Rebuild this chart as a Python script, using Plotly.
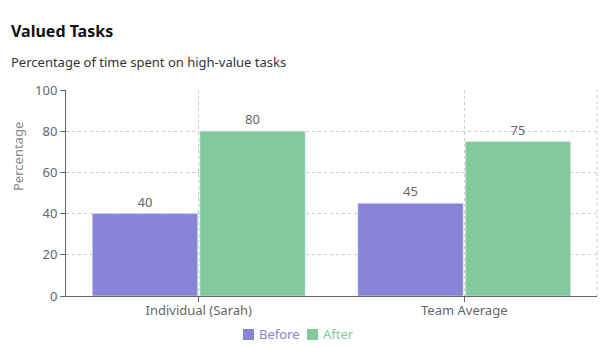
import plotly.graph_objects as go

categories = ["Individual (Sarah)", "Team Average"]
before_vals = [40, 45]
after_vals = [80, 75]
y_ticks = [0, 20, 40, 60, 80, 100]
series_names = ["Before", "After"]
series_colors = ["#8884d8", "#82ca9d"]

FONT = "Noto Sans"
W, H = 607, 348
ML, MR, MT, MB = 66, 10, 90, 52
pw = W - ML - MR
ph = H - MT - MB

def px2paper(px, py):
    return (px - ML) / pw, (H - MB - py) / ph

fig = go.Figure()
for name, vals, col in zip(series_names, [before_vals, after_vals], series_colors):
    fig.add_trace(go.Bar(
        x=categories, y=vals, name=name,
        marker_color=col, text=vals, textposition="outside",
        textfont=dict(color="#666", size=13, family=FONT), cliponaxis=False,
    ))

annotations = []
def ann(text, x, y, size, color, angle=0, xanchor="left"):
    ax, ay = px2paper(x, y)
    annotations.append(dict(text=text, x=ax, y=ay, xref="paper", yref="paper",
                            showarrow=False, textangle=angle,
                            font=dict(size=size, color=color, family=FONT),
                            xanchor=xanchor, yanchor="middle"))

ann("<b>Valued Tasks</b>", 9, 31, 16, "#111")
ann("Percentage of time spent on high-value tasks", 9, 62, 13, "#333")
ann("Percentage", 18, 157, 13, "#888", angle=-90, xanchor="center")

shapes = [dict(type="line", xref="paper", yref="paper", x0=1, x1=1, y0=0, y1=1,
               line=dict(color="#ccc", width=1, dash="3px,3px"))]

# custom legend
leg = [(243, 259), (307, 323)]
for (mx, tx), name, col in zip(leg, series_names, series_colors):
    x0, y0 = px2paper(mx, 340)
    x1, y1 = px2paper(mx + 11, 329)
    shapes.append(dict(type="rect", xref="paper", yref="paper", x0=x0, x1=x1,
                       y0=y0, y1=y1, fillcolor=col, line=dict(width=0)))
    ann(name, tx - 2, 334, 13, col)

fig.update_layout(
    width=W, height=H,
    margin=dict(l=ML, r=MR, t=MT, b=MB),
    paper_bgcolor="white", plot_bgcolor="white",
    font=dict(family=FONT, size=12, color="#666"),
    barmode="group", bargap=0.19, bargroupgap=0.02,
    showlegend=False,
    xaxis=dict(
        showline=True, linecolor="#666", linewidth=1,
        ticks="outside", ticklen=5, tickcolor="#666",
        showgrid=True, gridcolor="#ccc", griddash="3px,3px", gridwidth=1,
        tickfont=dict(size=13, color="#666"), automargin=False,
        ticklabelstandoff=-3,
    ),
    yaxis=dict(
        range=[0, 100], tickvals=y_ticks,
        showline=True, linecolor="#666", linewidth=1,
        ticks="outside", ticklen=5, tickcolor="#666",
        showgrid=True, gridcolor="#ccc", griddash="3px,3px", gridwidth=1,
        zeroline=False, tickfont=dict(size=13, color="#666"), automargin=False,
    ),
    annotations=annotations,
    shapes=shapes,
)

fig.write_html("out.html")
